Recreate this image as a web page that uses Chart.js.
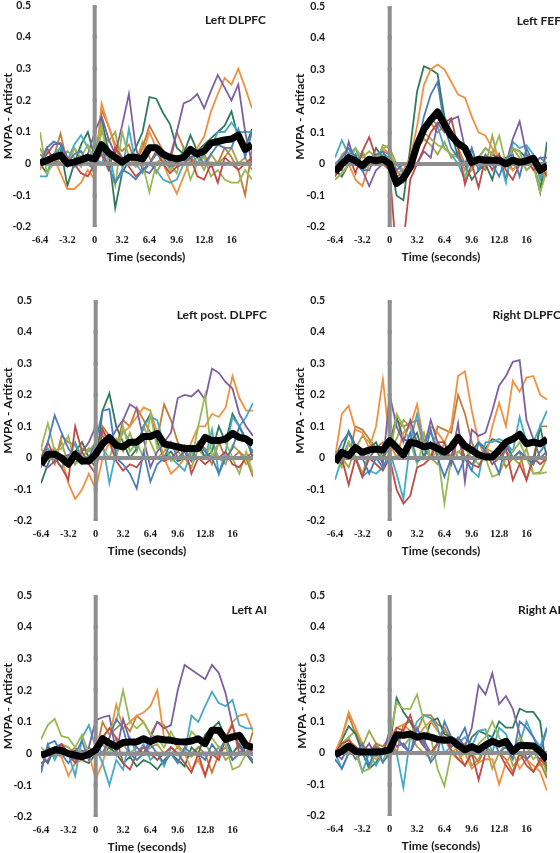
<!DOCTYPE html>
<html><head><meta charset="utf-8">
<script src="https://cdn.jsdelivr.net/npm/chart.js@4.4.1/dist/chart.umd.min.js"></script>
<style>
html,body{margin:0;padding:0;background:#fff;}
body{width:560px;height:853px;overflow:hidden;position:relative;}
.panel{position:absolute;}
</style></head><body>
<script>
// ---------- DATA ----------
const timePoints = [-6.4,-5.6,-4.8,-4.0,-3.2,-2.4,-1.6,-0.8, 0,0.8,1.6,2.4,3.2,4.0,4.8,5.6, 6.4,7.2,8.0,8.8,9.6,10.4,11.2,12.0, 12.8,13.6,14.4,15.2,16.0,16.8,17.6,18.4];
const xTickValues = [-6.4,-3.2,0,3.2,6.4,9.6,12.8,16];
const xTickLabels = ['-6.4','-3.2','0','3.2','6.4','9.6','12.8','16'];
const yTickValues = [-0.2,-0.1,0,0.1,0.2,0.3,0.4,0.5];
const yTickLabels = ['-0.2','-0.1','0','0.1','0.2','0.3','0.4','0.5'];
const panelTitles = ['Left DLPFC','Left FEF','Left post. DLPFC','Right DLPFC','Left AI','Right AI'];
const xAxisTitle = 'Time (seconds)';
const yAxisTitle = 'MVPA - Artifact';
// subject line order: blue, red, olive, purple, aqua, orange, dark green, brown, khaki
const subjectNames = ['S1','S2','S3','S4','S5','S6','S7','S8','S9'];

const leftDLPFCMean = [0.002,0.01,0.02,0.027,0.0,0.005,0.012,0.02, 0.015,0.06,0.035,0.02,0.005,0.02,0.02,0.015, 0.05,0.05,0.03,0.02,0.015,0.02,0.045,0.03, 0.04,0.065,0.07,0.075,0.078,0.09,0.045,0.06];
const leftDLPFCLines = [
 [0.0,0.05,0.07,0.06,0.0,0.03,0.04,0.0, -0.02,0.05,-0.01,-0.06,-0.02,-0.03,-0.05,-0.02, 0.0,0.03,0.02,-0.01,0.0,0.0,0.02,0.03, 0.0,0.03,0.06,0.05,0.05,0.11,0.02,0.1],
 [0.0,0.05,0.01,0.0,0.02,0.0,-0.03,-0.04, 0.0,0.03,-0.02,0.05,0.02,-0.01,-0.04,-0.02, 0.0,0.04,0.0,-0.03,-0.01,0.0,0.02,-0.04, -0.05,0.0,-0.06,0.02,0.0,-0.02,0.0,0.02],
 [0.1,-0.03,0.0,0.02,-0.01,0.05,0.02,0.06, 0.0,0.12,0.0,-0.07,0.1,0.02,0.01,0.0, -0.09,0.0,0.02,-0.02,0.0,0.03,-0.05,0.0, 0.02,-0.04,-0.02,-0.05,-0.06,-0.06,-0.02,-0.05],
 [0.0,0.03,0.06,0.065,0.02,-0.01,0.0,0.03, 0.1,0.15,0.08,0.03,0.12,0.22,0.05,-0.02, -0.03,0.0,0.02,0.02,0.1,0.19,0.2,0.22, 0.175,0.23,0.28,0.24,0.2,0.25,0.1,0.0],
 [-0.04,-0.04,0.03,0.05,0.01,0.06,0.09,0.05, 0.02,0.0,0.05,-0.06,-0.03,0.11,0.0,-0.03, 0.0,-0.02,-0.05,-0.06,-0.05,0.0,0.04,0.0, 0.03,0.05,0.1,0.1,0.13,0.1,0.1,0.1],
 [-0.02,0.04,0.02,-0.03,-0.08,-0.08,-0.06,-0.02, -0.05,0.19,0.12,0.05,0.0,0.02,-0.01,0.03, 0.1,0.05,0.0,-0.05,-0.095,-0.04,0.01,0.05, 0.085,0.165,0.22,0.27,0.25,0.3,0.24,0.175],
 [0.0,-0.03,0.02,0.05,-0.07,0.0,0.06,0.1, 0.02,0.14,0.04,-0.14,-0.03,0.01,0.05,0.1, 0.21,0.205,0.16,0.125,0.05,0.03,0.09,0.04, 0.06,0.08,0.1,0.12,0.165,0.08,0.05,0.11],
 [0.03,0.01,0.02,0.095,0.0,0.05,0.01,0.03, -0.04,0.17,0.12,0.06,0.04,0.06,0.0,0.05, 0.12,0.08,0.04,0.0,0.1,0.05,0.02,0.0, 0.03,-0.01,0.0,0.05,0.02,-0.02,-0.1,0.05],
 [0.05,0.0,0.03,0.0,0.04,0.02,-0.01,0.03, 0.0,0.1,0.07,0.1,-0.01,0.03,0.0,0.07, 0.02,-0.03,0.01,0.0,-0.03,0.05,0.0,0.02, -0.02,0.03,0.0,0.02,0.05,0.0,0.02,-0.02]
];

const leftFEFMean = [-0.026,0.0,0.02,0.01,-0.005,0.015,0.01,0.015, 0.0,-0.062,-0.045,-0.01,0.06,0.11,0.14,0.165, 0.125,0.09,0.065,0.05,0.005,0.015,0.012,0.012, 0.012,0.0,0.012,0.005,0.01,0.018,-0.02,-0.005];
const leftFEFLines = [
 [0.0,0.02,0.05,0.02,-0.02,-0.02,0.03,0.04, 0.0,-0.04,-0.03,0.0,0.05,0.15,0.22,0.26, 0.12,0.05,0.02,0.0,0.05,-0.02,0.03,0.0, -0.04,0.02,0.03,-0.04,0.05,0.0,0.02,0.0],
 [-0.04,0.0,0.03,-0.03,0.04,0.085,0.02,0.0, -0.02,-0.3,-0.25,-0.05,0.0,0.05,0.1,0.13, 0.13,0.145,0.05,-0.065,0.0,-0.075,0.02,-0.02, 0.03,-0.02,-0.05,0.0,0.02,-0.02,0.0,-0.04],
 [-0.05,-0.03,0.0,0.05,0.02,0.04,0.02,0.05, 0.06,-0.05,-0.06,0.0,0.05,0.1,0.08,0.06, 0.05,0.03,0.02,-0.04,-0.02,0.02,0.05,0.03, 0.09,0.0,0.05,0.04,-0.02,0.0,-0.09,-0.02],
 [0.0,-0.02,0.07,0.0,-0.02,-0.07,-0.02,0.0, 0.02,-0.02,0.0,-0.02,0.0,0.04,0.02,0.13, 0.1,0.14,0.15,0.05,0.0,0.02,0.05,0.03, 0.02,0.0,0.08,0.135,0.03,0.0,0.02,0.02],
 [0.02,0.075,0.03,0.05,-0.01,0.02,0.0,0.03, 0.02,0.0,-0.03,0.0,0.04,0.12,0.15,0.12, 0.05,0.03,0.0,-0.05,0.05,-0.02,0.02,0.0, 0.02,-0.06,0.07,0.05,0.06,0.03,-0.05,0.0],
 [-0.05,-0.03,0.0,-0.05,-0.07,0.0,0.02,0.05, 0.03,-0.03,-0.02,0.02,0.12,0.25,0.3,0.315, 0.3,0.26,0.22,0.21,0.15,0.1,0.09,0.05, 0.02,0.0,-0.02,0.0,0.03,0.02,-0.03,-0.03],
 [-0.02,-0.04,0.0,0.03,-0.02,0.0,0.05,0.02, 0.02,-0.1,-0.115,0.05,0.23,0.31,0.3,0.285, 0.15,0.1,0.02,0.0,-0.05,-0.02,0.0,-0.05, 0.03,-0.05,0.05,0.04,0.02,0.0,-0.09,0.07],
 [-0.03,0.0,0.02,0.0,0.03,0.0,0.02,0.04, 0.03,-0.02,-0.05,0.03,0.08,0.12,0.13,0.1, 0.12,0.09,0.05,0.0,0.02,0.0,-0.02,0.04, 0.0,0.02,-0.02,0.01,0.0,0.03,-0.04,0.0],
 [-0.02,0.03,0.05,0.0,0.04,0.0,0.0,0.06, 0.05,0.0,-0.02,0.0,0.05,0.08,0.06,0.03, 0.07,0.02,0.04,-0.02,0.02,0.0,-0.01,0.09, 0.0,0.0,0.05,0.02,-0.02,0.0,-0.07,-0.01]
];

const leftPostDLPFCMean = [-0.02,0.012,0.012,0.0,-0.02,0.012,-0.01,-0.01, 0.012,0.045,0.065,0.04,0.035,0.05,0.05,0.068, 0.068,0.078,0.045,0.04,0.035,0.03,0.03,0.03, 0.065,0.055,0.055,0.06,0.078,0.065,0.06,0.045];
const leftPostDLPFCLines = [
 [-0.03,0.05,0.135,0.08,0.03,0.0,-0.02,0.0, 0.05,0.15,0.155,0.0,-0.02,-0.05,-0.097,0.02, -0.075,-0.02,0.0,0.05,0.0,0.02,-0.01,0.05, 0.02,0.0,-0.05,0.0,0.03,0.1,0.05,0.02],
 [0.0,0.05,0.0,-0.03,-0.07,0.1,0.02,-0.02, -0.05,0.09,0.05,-0.01,-0.04,-0.02,-0.03,0.0, 0.0,0.0,-0.01,0.0,0.02,0.04,-0.05,0.0, -0.02,0.0,0.0,0.02,-0.02,-0.03,0.0,0.02],
 [0.03,0.11,0.02,0.03,0.07,-0.02,0.0,0.03, 0.0,0.08,0.06,0.0,0.1,0.02,0.05,0.0, 0.14,0.03,0.05,-0.01,0.0,0.02,-0.01,0.1, 0.2,0.0,0.05,0.05,0.0,-0.05,0.02,-0.05],
 [-0.02,-0.03,-0.01,0.0,0.01,-0.02,0.02,0.05, 0.1,0.07,0.05,0.09,0.12,0.17,0.155,0.06, -0.03,0.02,0.05,0.08,0.19,0.2,0.195,0.215, 0.185,0.283,0.27,0.24,0.22,0.14,0.1,0.07],
 [0.0,0.03,0.0,-0.03,0.0,0.05,0.0,-0.02, 0.0,0.05,-0.08,0.02,0.09,0.05,0.03,0.1, 0.13,0.12,0.04,0.0,-0.02,-0.04,0.02,0.0, 0.0,0.09,-0.05,0.02,0.13,0.1,0.13,0.175],
 [0.0,0.02,0.03,0.0,-0.08,-0.13,-0.1,-0.05, -0.1,0.0,0.05,0.03,0.08,0.1,0.13,0.16, 0.15,0.08,0.0,-0.05,-0.03,0.0,0.05,0.1, 0.1,0.14,0.13,0.16,0.26,0.19,0.15,0.15],
 [-0.08,-0.02,0.03,0.0,-0.02,0.02,0.05,0.0, -0.03,0.15,0.205,0.1,0.05,0.0,0.03,0.1, 0.14,0.05,0.0,0.02,-0.01,0.0,0.0,0.05, 0.0,0.02,0.1,0.05,0.14,0.1,0.06,0.0],
 [0.0,0.02,-0.02,0.07,0.05,0.04,0.0,0.03, 0.02,0.1,0.07,0.03,0.12,0.1,0.16,0.12, 0.08,0.06,0.17,0.12,0.05,0.0,0.02,0.05, 0.03,-0.02,0.05,0.0,0.0,0.02,0.0,-0.06],
 [0.03,0.0,0.0,0.05,-0.02,0.0,0.03,0.02, 0.05,0.03,0.0,0.06,0.02,0.08,0.02,0.1, 0.05,0.0,0.02,0.05,0.02,0.0,-0.03,0.03, 0.0,0.05,0.0,-0.02,0.04,0.02,-0.02,0.0]
];

const rightDLPFCMean = [-0.014,0.018,0.007,0.033,0.018,0.025,0.028,0.025, 0.055,0.033,0.01,0.05,0.045,0.035,0.04,0.03, 0.018,0.035,0.065,0.038,0.025,0.01,0.003,0.003, 0.025,0.05,0.06,0.075,0.045,0.05,0.045,0.06];
const rightDLPFCLines = [
 [0.0,0.05,0.08,0.03,0.0,-0.05,0.0,-0.03, 0.0,0.0,0.02,0.08,-0.01,0.0,0.09,0.0, -0.06,0.0,-0.05,0.0,-0.04,0.05,0.02,0.0, -0.05,0.05,0.0,0.02,0.0,-0.02,0.02,0.05],
 [0.0,0.0,-0.085,0.0,-0.06,0.0,-0.02,-0.04, 0.0,-0.1,-0.145,-0.12,-0.03,-0.02,0.0,0.05, 0.05,-0.02,0.07,0.0,-0.02,-0.03,0.02,-0.02, 0.0,0.03,-0.07,-0.02,-0.07,0.0,-0.02,0.0],
 [0.0,-0.03,0.05,0.0,-0.05,0.02,0.03,0.0, 0.0,0.14,0.1,0.05,-0.02,0.05,0.0,0.02, -0.145,0.0,0.02,0.03,0.0,-0.02,0.0,-0.06, -0.05,0.0,0.02,0.05,0.0,-0.05,-0.05,-0.045],
 [0.0,-0.02,0.05,0.0,-0.05,0.0,0.03,-0.02, 0.2,0.1,0.05,0.12,0.05,0.03,0.12,0.05, 0.02,0.0,0.11,-0.075,0.09,0.07,0.08,0.15, 0.23,0.26,0.305,0.31,0.12,0.06,0.0,0.02],
 [-0.07,0.0,0.05,0.0,-0.06,-0.04,-0.05,-0.03, 0.02,-0.05,-0.13,0.05,0.14,0.05,0.08,0.03, 0.0,0.05,0.0,0.0,-0.04,-0.06,0.05,0.05, 0.06,0.05,0.02,0.13,0.05,0.05,0.1,0.15],
 [0.0,0.14,0.165,0.09,0.08,0.03,0.1,0.25, 0.05,0.0,0.08,0.1,0.17,0.05,0.1,0.08, 0.05,0.1,0.26,0.275,0.15,0.05,0.0,0.1, 0.175,0.1,0.245,0.21,0.255,0.26,0.2,0.185],
 [0.0,0.02,0.085,0.04,0.0,0.03,0.05,0.0, 0.05,0.13,0.06,0.05,0.08,0.0,0.05,0.02, 0.0,0.03,0.06,0.0,0.02,0.05,0.03,0.06, 0.05,0.04,0.0,0.02,0.0,-0.02,0.1,0.0],
 [0.0,0.02,0.0,0.1,0.09,0.06,0.03,0.05, 0.03,0.12,0.1,0.11,0.12,0.03,0.0,0.1, 0.09,0.08,0.2,0.14,0.05,0.0,0.03,0.0, 0.02,-0.03,0.0,0.02,-0.07,0.0,0.1,0.1],
 [0.02,0.0,-0.03,0.03,0.07,0.05,0.02,0.0, 0.03,0.06,0.12,0.1,0.04,0.08,0.0,-0.02, 0.05,0.0,0.02,0.0,-0.02,0.0,0.03,0.02, 0.0,0.02,0.0,-0.02,0.03,-0.05,-0.045,0.0]
];

const leftAIMean = [-0.005,0.002,0.012,0.01,0.0,-0.005,-0.01,-0.002, 0.012,0.047,0.033,0.022,0.035,0.037,0.037,0.047, 0.038,0.047,0.044,0.042,0.038,0.037,0.04,0.047, 0.032,0.074,0.074,0.045,0.053,0.058,0.026,0.02];
const leftAILines = [
 [-0.06,0.03,0.04,0.0,-0.03,0.0,0.04,-0.02, 0.03,0.0,0.05,0.11,0.08,0.0,-0.02,0.0, 0.03,0.0,-0.03,0.0,-0.03,0.02,0.0,0.0, -0.02,0.03,0.0,0.05,-0.02,0.0,0.02,0.0],
 [-0.05,0.02,0.0,0.03,0.0,-0.03,0.01,0.0, 0.02,0.05,0.08,0.05,-0.03,-0.05,0.0,0.02, 0.0,-0.02,0.0,0.02,0.0,-0.03,-0.06,0.0, -0.07,0.0,-0.02,0.05,0.09,0.0,0.03,0.01],
 [0.045,0.09,0.11,0.055,0.05,0.02,0.06,0.0, 0.02,0.05,0.08,0.1,0.2,0.1,0.08,0.1, 0.06,0.05,0.02,0.07,0.03,0.0,0.07,0.05, 0.03,0.05,0.02,0.03,-0.05,-0.04,0.0,0.02],
 [-0.03,-0.02,0.01,0.03,0.0,-0.02,-0.01,0.02, 0.105,0.115,0.12,0.0,0.11,0.04,0.02,0.0, 0.05,0.1,0.08,0.09,0.2,0.28,0.265,0.25, 0.235,0.28,0.255,0.19,0.09,0.02,0.0,-0.02],
 [-0.06,0.03,-0.02,0.02,0.0,-0.07,0.05,0.09, 0.02,-0.03,-0.1,-0.02,-0.05,0.05,0.0,0.03, -0.02,0.0,-0.04,0.02,0.0,0.0,0.12,0.1, 0.15,0.195,0.16,0.15,0.17,0.09,0.08,0.08],
 [0.0,0.01,0.0,-0.01,-0.07,-0.03,-0.02,0.0, -0.08,-0.03,0.05,0.155,0.08,0.1,0.12,0.13, 0.15,0.2,0.05,0.05,0.02,0.0,-0.05,-0.02, -0.07,0.0,-0.02,0.05,0.1,0.12,0.125,0.07],
 [0.0,-0.03,0.02,0.03,0.0,0.01,-0.02,-0.03, 0.0,0.0,0.02,0.0,-0.03,-0.01,-0.04,-0.02, -0.03,-0.05,-0.02,0.0,-0.02,-0.04,0.02,0.0, 0.06,0.08,0.1,0.05,0.0,0.03,0.0,-0.03],
 [0.0,0.0,0.02,0.01,0.0,0.02,-0.01,0.0, 0.0,0.1,0.06,0.08,0.1,0.07,0.12,0.1, 0.06,0.1,0.09,0.05,0.02,0.0,0.0,0.02, 0.0,-0.06,0.0,0.02,-0.02,0.0,0.0,0.07],
 [0.02,0.0,-0.01,0.03,0.02,0.0,0.0,0.02, 0.0,0.03,0.0,0.05,0.03,0.0,0.02,0.0, 0.02,0.03,0.0,0.0,0.02,0.0,-0.01,0.02, 0.03,0.0,0.02,-0.02,0.0,0.0,0.02,0.0]
];

const rightAIMean = [-0.005,0.005,0.022,0.005,0.003,0.003,0.003,0.005, 0.01,0.058,0.056,0.06,0.05,0.055,0.05,0.043, 0.04,0.042,0.025,0.01,0.02,0.01,0.025,0.037, 0.028,0.037,0.005,0.024,0.024,0.022,0.005,-0.022];
const rightAILines = [
 [-0.02,-0.05,0.0,0.0,0.03,-0.04,0.02,-0.03, 0.0,0.05,0.02,0.0,0.08,0.03,-0.03,0.0, 0.1,0.05,0.04,0.08,0.0,0.02,0.0,0.05, 0.0,0.02,-0.02,0.1,0.08,0.05,0.0,0.08],
 [0.0,0.03,0.04,0.02,0.0,0.0,0.02,0.0, 0.0,0.08,0.07,0.12,0.05,0.02,0.0,0.03, 0.05,0.01,-0.02,-0.04,0.0,-0.085,0.0,0.0, 0.0,-0.04,-0.07,0.0,-0.04,-0.06,-0.02,-0.04],
 [0.0,0.02,0.05,0.0,-0.06,-0.05,0.0,-0.03, 0.05,0.16,0.14,0.14,0.185,0.1,0.05,-0.05, -0.105,0.0,0.02,0.0,-0.01,0.03,0.05,0.1, 0.05,0.02,0.0,0.05,0.02,-0.02,0.0,-0.07],
 [0.0,-0.02,0.02,-0.02,0.0,0.03,-0.01,0.0, 0.07,0.02,0.03,0.0,0.05,0.04,0.0,0.03, 0.05,0.02,0.05,0.02,0.08,0.215,0.185,0.253, 0.155,0.18,0.14,0.06,-0.02,0.0,-0.02,0.0],
 [0.0,-0.05,0.0,0.02,-0.06,0.0,-0.04,0.0, 0.02,0.0,-0.11,0.05,0.1,0.12,0.11,0.08, 0.0,0.02,0.03,0.05,0.02,0.07,0.075,0.0, 0.08,0.06,0.0,0.03,0.1,0.05,0.02,0.08],
 [0.0,0.05,0.13,0.08,0.03,0.0,-0.02,0.0, 0.05,0.08,0.09,0.07,0.05,0.08,0.1,0.07, 0.05,0.0,-0.02,0.0,-0.05,-0.03,-0.02,-0.02, -0.1,-0.03,0.0,-0.05,-0.02,-0.04,-0.06,-0.12],
 [0.0,0.04,0.085,0.06,0.0,-0.05,-0.03,0.0, 0.02,0.175,0.13,0.1,0.05,0.03,0.1,0.11, 0.06,0.05,0.03,0.0,0.05,0.07,0.06,0.05, 0.1,0.08,0.08,0.14,0.13,0.13,0.1,-0.07],
 [0.0,0.05,0.12,0.06,0.02,0.0,0.03,0.02, 0.05,0.0,0.09,0.1,0.07,0.12,0.12,0.09, 0.08,0.04,0.0,-0.04,0.0,-0.03,0.02,0.0, 0.0,-0.02,-0.06,0.0,-0.02,-0.06,-0.03,-0.08],
 [0.0,0.03,0.05,0.07,0.02,0.07,0.03,0.0, -0.02,0.05,0.02,0.05,0.02,0.0,-0.02,0.03, 0.07,0.05,0.0,0.03,-0.04,-0.02,0.03,-0.05, 0.0,0.03,-0.04,-0.02,0.0,0.02,-0.04,-0.03]
];

// ---------- STYLE / LAYOUT ----------
const lineColors = ['#4A7EBB','#BE4B48','#98B954','#7D60A0','#46AAC5','#F0913F','#2F7A5C','#C47B3A','#A3A84E'];
const zeroGray = '#8E8E8E';
const panelMeans = [leftDLPFCMean, leftFEFMean, leftPostDLPFCMean, rightDLPFCMean, leftAIMean, rightAIMean];
const panelLines = [leftDLPFCLines, leftFEFLines, leftPostDLPFCLines, rightDLPFCLines, leftAILines, rightAILines];
const layoutBoxes = [
  {colLeft:0,   cL:40,  cR:252, cT:3,   cB:227, yTitleX:8,  yPad:9},
  {colLeft:280, cL:335, cR:547, cT:3,   cB:227, yTitleX:20, yPad:10},
  {colLeft:0,   cL:41,  cR:253, cT:298, cB:521, yTitleX:8,  yPad:9},
  {colLeft:280, cL:335, cR:547, cT:297, cB:521, yTitleX:20, yPad:10},
  {colLeft:0,   cL:41,  cR:253, cT:593, cB:817, yTitleX:8,  yPad:9},
  {colLeft:280, cL:335, cR:547, cT:592, cB:816, yTitleX:22, yPad:10}
];
const TOP_PAD = 13, X_AXIS_H = 53;
const textColor = '#1a1a1a';
const sansFont = 'Lato, "Open Sans", sans-serif';

const panelTitlePlugin = {
  id: 'panelTitle',
  afterDraw(chart, args, opts) {
    const {ctx, chartArea} = chart;
    ctx.save();
    ctx.font = 'bold 12px ' + sansFont;
    ctx.fillStyle = textColor;
    ctx.textAlign = 'right';
    ctx.textBaseline = 'middle';
    ctx.fillText(opts.text, chartArea.right + 14, chartArea.top + 15);
    ctx.restore();
  }
};

function toXY(vals) { return timePoints.map((t, i) => ({x: t, y: vals[i]})); }

function makePanel(i) {
  const L = layoutBoxes[i];
  const top = L.cT - TOP_PAD;
  const height = L.cB - top + X_AXIS_H;
  const div = document.createElement('div');
  div.className = 'panel';
  div.style.left = L.colLeft + 'px';
  div.style.top = top + 'px';
  div.style.width = '280px';
  div.style.height = height + 'px';
  const cv = document.createElement('canvas');
  div.appendChild(cv);
  document.body.appendChild(div);

  const datasets = [];
  datasets.push({label: 'Mean', data: toXY(panelMeans[i]), borderColor: '#000', borderWidth: 7,
    pointRadius: 0, borderJoinStyle: 'round', borderCapStyle: 'butt', tension: 0});
  datasets.push({label: 'Onset', data: yTickValues.map(v => ({x: 0, y: v})), borderColor: zeroGray,
    borderWidth: 4, pointStyle: 'rect', pointRadius: 2.8, pointBackgroundColor: zeroGray, pointBorderWidth: 0});
  datasets.push({label: 'Zero', data: timePoints.map(t => ({x: t, y: 0})), borderColor: zeroGray,
    borderWidth: 4, pointStyle: 'rect', pointRadius: 2.8, pointBackgroundColor: zeroGray, pointBorderWidth: 0});
  panelLines[i].forEach((vals, k) => {
    datasets.push({label: subjectNames[k], data: toXY(vals), borderColor: lineColors[k], borderWidth: 1.8,
      pointRadius: 0, tension: 0});
  });

  new Chart(cv, {
    type: 'line',
    data: {datasets},
    plugins: [panelTitlePlugin],
    options: {
      responsive: true, maintainAspectRatio: false, animation: false, devicePixelRatio: 1,
      layout: {padding: {top: TOP_PAD, left: 0, bottom: 0, right: L.colLeft + 280 - L.cR}},
      plugins: {legend: {display: false}, tooltip: {enabled: false}, panelTitle: {text: panelTitles[i]}},
      scales: {
        x: {
          type: 'linear', min: -6.4, max: 18.4,
          grid: {display: false, drawTicks: false}, border: {display: false},
          afterBuildTicks: s => { s.ticks = xTickValues.map(v => ({value: v})); },
          afterFit: s => { s.height = X_AXIS_H; },
          ticks: {autoSkip: false, maxRotation: 0, padding: 7, color: textColor,
            font: {family: '"Liberation Serif", serif', weight: 'bold', size: 10.5},
            callback: (v, idx) => xTickLabels[idx]},
          title: {display: true, text: xAxisTitle, color: textColor, padding: {top: 0, bottom: 16},
            font: {family: sansFont, weight: 'bold', size: 12}}
        },
        y: {
          type: 'linear', min: -0.2, max: 0.5,
          grid: {display: false, drawTicks: false}, border: {display: false},
          afterBuildTicks: s => { s.ticks = yTickValues.map(v => ({value: v})); },
          afterFit: s => { s.width = L.cL - L.colLeft; },
          ticks: {padding: L.yPad, color: textColor,
            font: {family: sansFont, weight: 'bold', size: 10.5},
            callback: (v, idx) => yTickLabels[idx]},
          title: {display: true, text: yAxisTitle, color: textColor, padding: {top: L.yTitleX - 7, bottom: 0},
            font: {family: sansFont, weight: 'bold', size: 12}}
        }
      }
    }
  });
}
for (let i = 0; i < 6; i++) makePanel(i);
</script>
</body></html>
